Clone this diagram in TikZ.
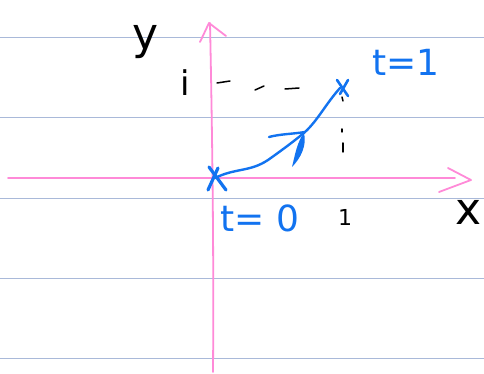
\documentclass[tikz,border=0pt]{standalone}
\usepackage{fontspec}
\setmainfont{DejaVu Sans}
\definecolor{ruled}{HTML}{A9B9D9}
\definecolor{axispink}{HTML}{FF8AD8}
\definecolor{penblue}{HTML}{1273F0}
\tikzset{
  rule/.style={ruled, line width=1pt},
  axisline/.style={axispink, line width=1.8pt, line cap=round, line join=round},
  penpath/.style={penblue, line width=2.4pt, line cap=round, line join=round},
  crossmark/.style={penblue, line width=3.2pt, line cap=round},
  inkdash/.style={black, line width=1.5pt, line cap=round},
  bluelabel/.style={penblue, font=\fontsize{36}{36}\selectfont, inner sep=0pt},
  blacklabel/.style={black, font=\fontsize{44}{44}\selectfont, inner sep=0pt},
}
\begin{document}
\begin{tikzpicture}[x=1pt,y=-1pt]
\useasboundingbox (0,0) rectangle (484,374);
\fill[white] (0,0) rectangle (484,374);
% ruled lines
\foreach \yy in {38,118,198,278,358} \draw[rule] (0,\yy) -- (484,\yy);
% axes
\coordinate (xs) at (8,178);
\coordinate (xe) at (455,178);
\coordinate (ys) at (213,372);
\coordinate (ye) at (210,23);
\draw[axisline] (xs) -- (xe);
\draw[axisline] (448,168) -- (471,180) -- (439,192);
\draw[axisline] (ys) .. controls (214,250) and (212,120) .. (ye);
\draw[axisline] (200,42) -- (209,23) -- (226,36);
% labels
\node[blacklabel] (ylab) at (146,42) {y};
\node[blacklabel] (xlab) at (469,212) {x};
\node[black, font=\fontsize{34}{34}\selectfont, inner sep=0pt] (ilab) at (185,83) {i};
\node[black, font=\fontsize{22}{22}\selectfont, inner sep=0pt] (onelab) at (345,217) {1};
% dashed guide lines
\draw[inkdash] (217,83) -- (230,81);
\draw[inkdash] (255,90) -- (264,86);
\draw[inkdash] (285,89) -- (299,88);
\draw[inkdash] (342,97) -- (343,101);
\draw[inkdash] (342,129) -- (342,132);
\draw[inkdash] (343,143) -- (343,152);
% points
\coordinate (p0) at (215,178);
\coordinate (p1) at (340,88);
\draw[penpath] (p0) .. controls (235,168) and (250,172) .. (268,160)
  .. controls (285,148) and (298,138) .. (305,132)
  .. controls (318,120) and (325,105) .. (p1);
% arrowhead
\draw[penpath] (269,137) .. controls (280,134) and (293,134) .. (305,132);
\fill[penblue] (304,133) .. controls (307,145) and (301,158) .. (292,167)
  .. controls (295,155) and (297,142) .. (304,133);
% crosses
\draw[crossmark] (209,167) -- (226,190);
\draw[crossmark] (218,168) -- (208,190);
\draw[penblue, line width=2.6pt, line cap=round] (337,80) -- (348,96);
\draw[penblue, line width=2.6pt, line cap=round] (348,80) -- (340,94);
% t labels
\node[bluelabel] (t0) at (260,218) {t= 0};
\node[bluelabel] (t1) at (406,62) {t=1};
\end{tikzpicture}
\end{document}
